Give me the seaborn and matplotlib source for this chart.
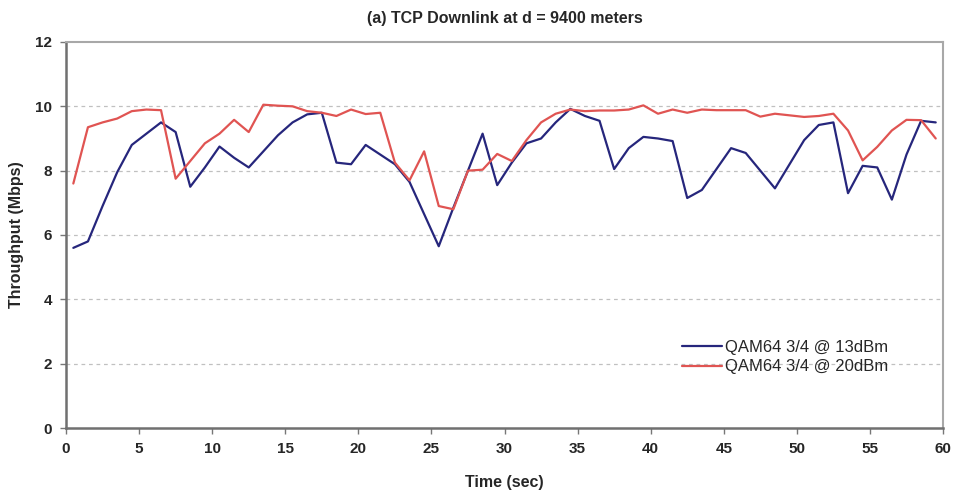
import numpy as np
import pandas as pd
import matplotlib
matplotlib.use("Agg")
import matplotlib.pyplot as plt
import seaborn as sns

# Sample times (s)
time_sec = [t + 0.5 for t in range(60)]

# Throughput (Mbps), QAM64 3/4 at 13 dBm transmit power
thr_13dbm = [5.6, 5.8, 6.9, 7.95, 8.8, 9.15, 9.5, 9.2, 7.5, 8.1,
             8.75, 8.4, 8.1, 8.6, 9.1, 9.5, 9.75, 9.8, 8.25, 8.2,
             8.8, 8.5, 8.2, 7.65, 6.65, 5.65, 6.85, 8.0, 9.15, 7.55,
             8.25, 8.85, 9.0, 9.5, 9.92, 9.7, 9.55, 8.05, 8.7, 9.05,
             9.0, 8.92, 7.15, 7.4, 8.05, 8.7, 8.55, 8.0, 7.45, 8.2,
             8.95, 9.42, 9.5, 7.3, 8.15, 8.1, 7.1, 8.5, 9.55, 9.5]

# Throughput (Mbps), QAM64 3/4 at 20 dBm transmit power
thr_20dbm = [7.6, 9.35, 9.5, 9.62, 9.85, 9.9, 9.88, 7.75, 8.3, 8.85,
             9.15, 9.58, 9.2, 10.05, 10.02, 10.0, 9.85, 9.8, 9.7, 9.9,
             9.76, 9.8, 8.25, 7.7, 8.6, 6.9, 6.8, 8.0, 8.03, 8.52,
             8.3, 8.95, 9.5, 9.77, 9.9, 9.85, 9.87, 9.87, 9.9, 10.03,
             9.77, 9.9, 9.8, 9.9, 9.88, 9.88, 9.88, 9.68, 9.77, 9.72,
             9.67, 9.7, 9.77, 9.25, 8.32, 8.74, 9.25, 9.58, 9.57, 9.0]

series_names = ["QAM64 3/4 @ 13dBm", "QAM64 3/4 @ 20dBm"]
x_ticks = list(range(0, 61, 5))
y_ticks = list(range(0, 13, 2))

df = pd.DataFrame({
    "Time (sec)": time_sec * 2,
    "Throughput (Mbps)": thr_13dbm + thr_20dbm,
    "series": [series_names[0]] * len(time_sec) + [series_names[1]] * len(time_sec),
})

sns.set_style("white")
plt.rcParams["font.family"] = ["Liberation Sans", "DejaVu Sans"]

fig = plt.figure(figsize=(9.54, 4.94), dpi=100)
ax = fig.add_axes([0.0692, 0.1336, 0.9193, 0.7814])

sns.lineplot(data=df, x="Time (sec)", y="Throughput (Mbps)", hue="series",
             palette=["#26267c", "#e05452"], linewidth=1.6, ax=ax)

ax.set_xlim(0, 60)
ax.set_ylim(0, 12)
ax.set_xticks(x_ticks)
ax.set_yticks(y_ticks)
ax.set_xticklabels([str(v) for v in x_ticks], fontsize=11, fontweight="bold")
ax.set_yticklabels([str(v) for v in y_ticks], fontsize=11, fontweight="bold")
ax.tick_params(axis="both", direction="out", length=4, width=1.0, color="#777777",
               bottom=True, left=True, pad=6)

for v in y_ticks[1:-1]:
    ax.axhline(v, color="#c0c0c0", linestyle=(0, (3, 3)), linewidth=0.9, zorder=0)

for side in ["top", "right"]:
    ax.spines[side].set_color("#a8a8a8")
    ax.spines[side].set_linewidth(1.5)
for side in ["left", "bottom"]:
    ax.spines[side].set_color("#707070")
    ax.spines[side].set_linewidth(1.8)

ax.set_xlabel("Time (sec)", fontsize=11.5, fontweight="bold", labelpad=14)
ax.set_ylabel("Throughput (Mbps)", fontsize=11.5, fontweight="bold", labelpad=8)
ax.set_title("(a) TCP Downlink at d = 9400 meters", fontsize=11.5, fontweight="bold", pad=14)

leg = ax.legend(loc="lower right", bbox_to_anchor=(0.955, 0.10), frameon=False,
                fontsize=12, handlelength=2.4, handletextpad=0.2, labelspacing=0.25)

fig.savefig("out.png", dpi=100)
